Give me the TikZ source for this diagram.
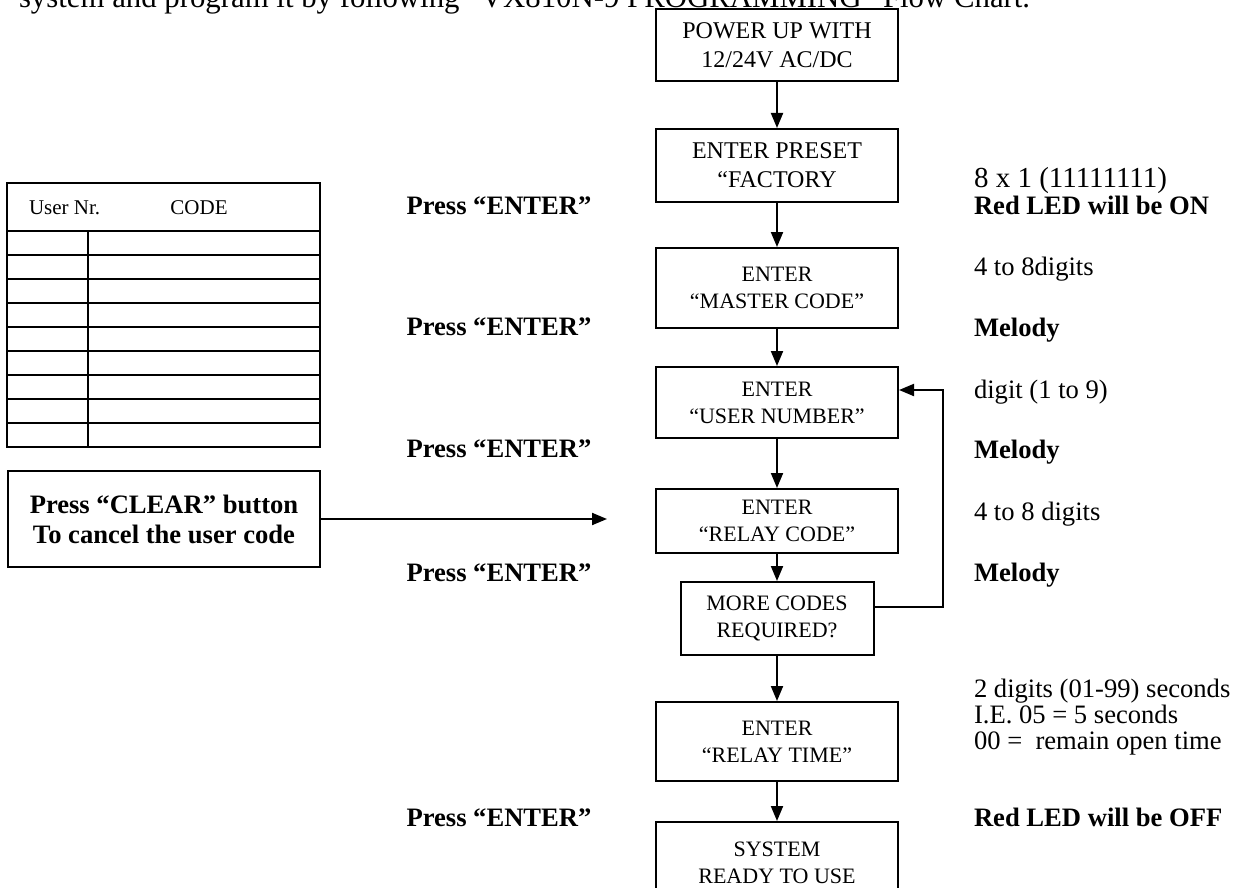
\documentclass[tikz,border=0pt]{standalone}
\usepackage{fontspec}
\setmainfont{Liberation Serif}
\usetikzlibrary{arrows.meta}

\begin{document}
\begin{tikzpicture}[x=0.5pt, y=-0.5pt, >={Triangle[length=7.5pt, width=6pt]}, line width=1pt,
    stepbox/.style={draw, minimum width=121pt, align=center, inner sep=0pt, font=\fontsize{11}{13.5}\selectfont},
    bigbox/.style={stepbox, font=\fontsize{12}{14.5}\selectfont},
    press/.style={font=\fontsize{13.3}{15}\selectfont\bfseries, inner sep=0pt, text height=8.8pt, text depth=0pt},
    note/.style={anchor=west, font=\fontsize{13.3}{15}\selectfont, inner sep=0pt, text height=8.8pt, text depth=0pt},
    boldnote/.style={note, font=\fontsize{13.3}{15}\selectfont\bfseries},
    cell/.style={inner sep=0pt, font=\fontsize{10.5}{12}\selectfont, text height=7pt, text depth=0pt}]
    \useasboundingbox (0, 0) rectangle (1236, 888);
    \clip (0, 0) rectangle (1236, 888);

    \node[anchor=base west, inner sep=0pt, font=\fontsize{15.4}{18}\selectfont] (intro) at (18, 8) {system and program it by following “VX810N-9 PROGRAMMING” Flow Chart.};

    \node[bigbox, minimum height=36pt] (power) at (777, 45) {POWER UP WITH\\12/24V AC/DC};
    \node[bigbox, minimum height=36.5pt] (preset) at (777, 165.5) {ENTER PRESET\\“FACTORY};
    \node[stepbox, minimum height=40pt] (master) at (777, 288) {ENTER\\“MASTER CODE”};
    \node[stepbox, minimum height=35.5pt] (usernr) at (777, 402.5) {ENTER\\“USER NUMBER”};
    \node[stepbox, minimum height=32pt] (relaycode) at (777, 521) {ENTER\\“RELAY CODE”};
    \node[stepbox, minimum width=96.5pt, minimum height=36.5pt] (more) at (777, 618.5) {MORE CODES\\REQUIRED?};
    \node[stepbox, minimum height=39.5pt] (relaytime) at (777, 741.5) {ENTER\\“RELAY TIME”};
    \node[stepbox, minimum height=41pt] (ready) at (777, 863) {SYSTEM\\READY TO USE};

    \foreach \a/\b in {power/preset, preset/master, master/usernr, usernr/relaycode, relaycode/more, more/relaytime, relaytime/ready} {
        \draw[->] (\a) -- (\b);
    }

    \coordinate (loopb) at (943, 607);
    \coordinate (loopt) at (943, 390);
    \draw[->] (more.east |- loopb) -- (loopb) -- (loopt) -- (usernr.east |- loopt);

    \node[draw, minimum width=156pt, minimum height=48pt, align=center, inner sep=0pt, font=\fontsize{13.3}{15}\selectfont\bfseries] (clear) at (164, 519) {Press “CLEAR” button\\To cancel the user code};
    \coordinate (cleartip) at (607, 519);
    \draw[->] (clear) -- (cleartip);

    \draw (7, 183) rectangle (320, 447);
    \draw (7, 231) -- (320, 231);
    \foreach \y in {255, 279, ..., 423} {
        \draw (7, \y) -- (320, \y);
    }
    \draw (88, 231) -- (88, 447);
    \node[cell, anchor=west] (usrhead) at (28, 207) {User Nr.};
    \node[cell] (codehead) at (199, 207) {CODE};

    \foreach \y [count=\i] in {206, 327, 449, 573, 818} {
        \node[press] (press\i) at (499, \y) {Press “ENTER”};
    }

    \node[note, font=\fontsize{14.5}{17}\selectfont, text height=9.6pt] (factory) at (973, 178) {8 x 1 (11111111)};
    \node[boldnote] (ledon) at (973, 206) {Red LED will be ON};
    \node[note] (mastdig) at (973, 267) {4 to 8digits};
    \node[boldnote] (melody1) at (973, 328) {Melody};
    \node[note] (usrdig) at (973, 390) {digit (1 to 9)};
    \node[boldnote] (melody2) at (973, 450) {Melody};
    \node[note] (relaydig) at (973, 512) {4 to 8 digits};
    \node[boldnote] (melody3) at (973, 573) {Melody};
    \node[note] (secs) at (973, 689) {2 digits (01-99) seconds};
    \node[note] (example) at (973, 715) {I.E. 05 = 5 seconds};
    \node[note] (openrem) at (973, 741) {00 = \ remain open time};
    \node[boldnote] (ledoff) at (973, 818) {Red LED will be OFF};
\end{tikzpicture}
\end{document}
